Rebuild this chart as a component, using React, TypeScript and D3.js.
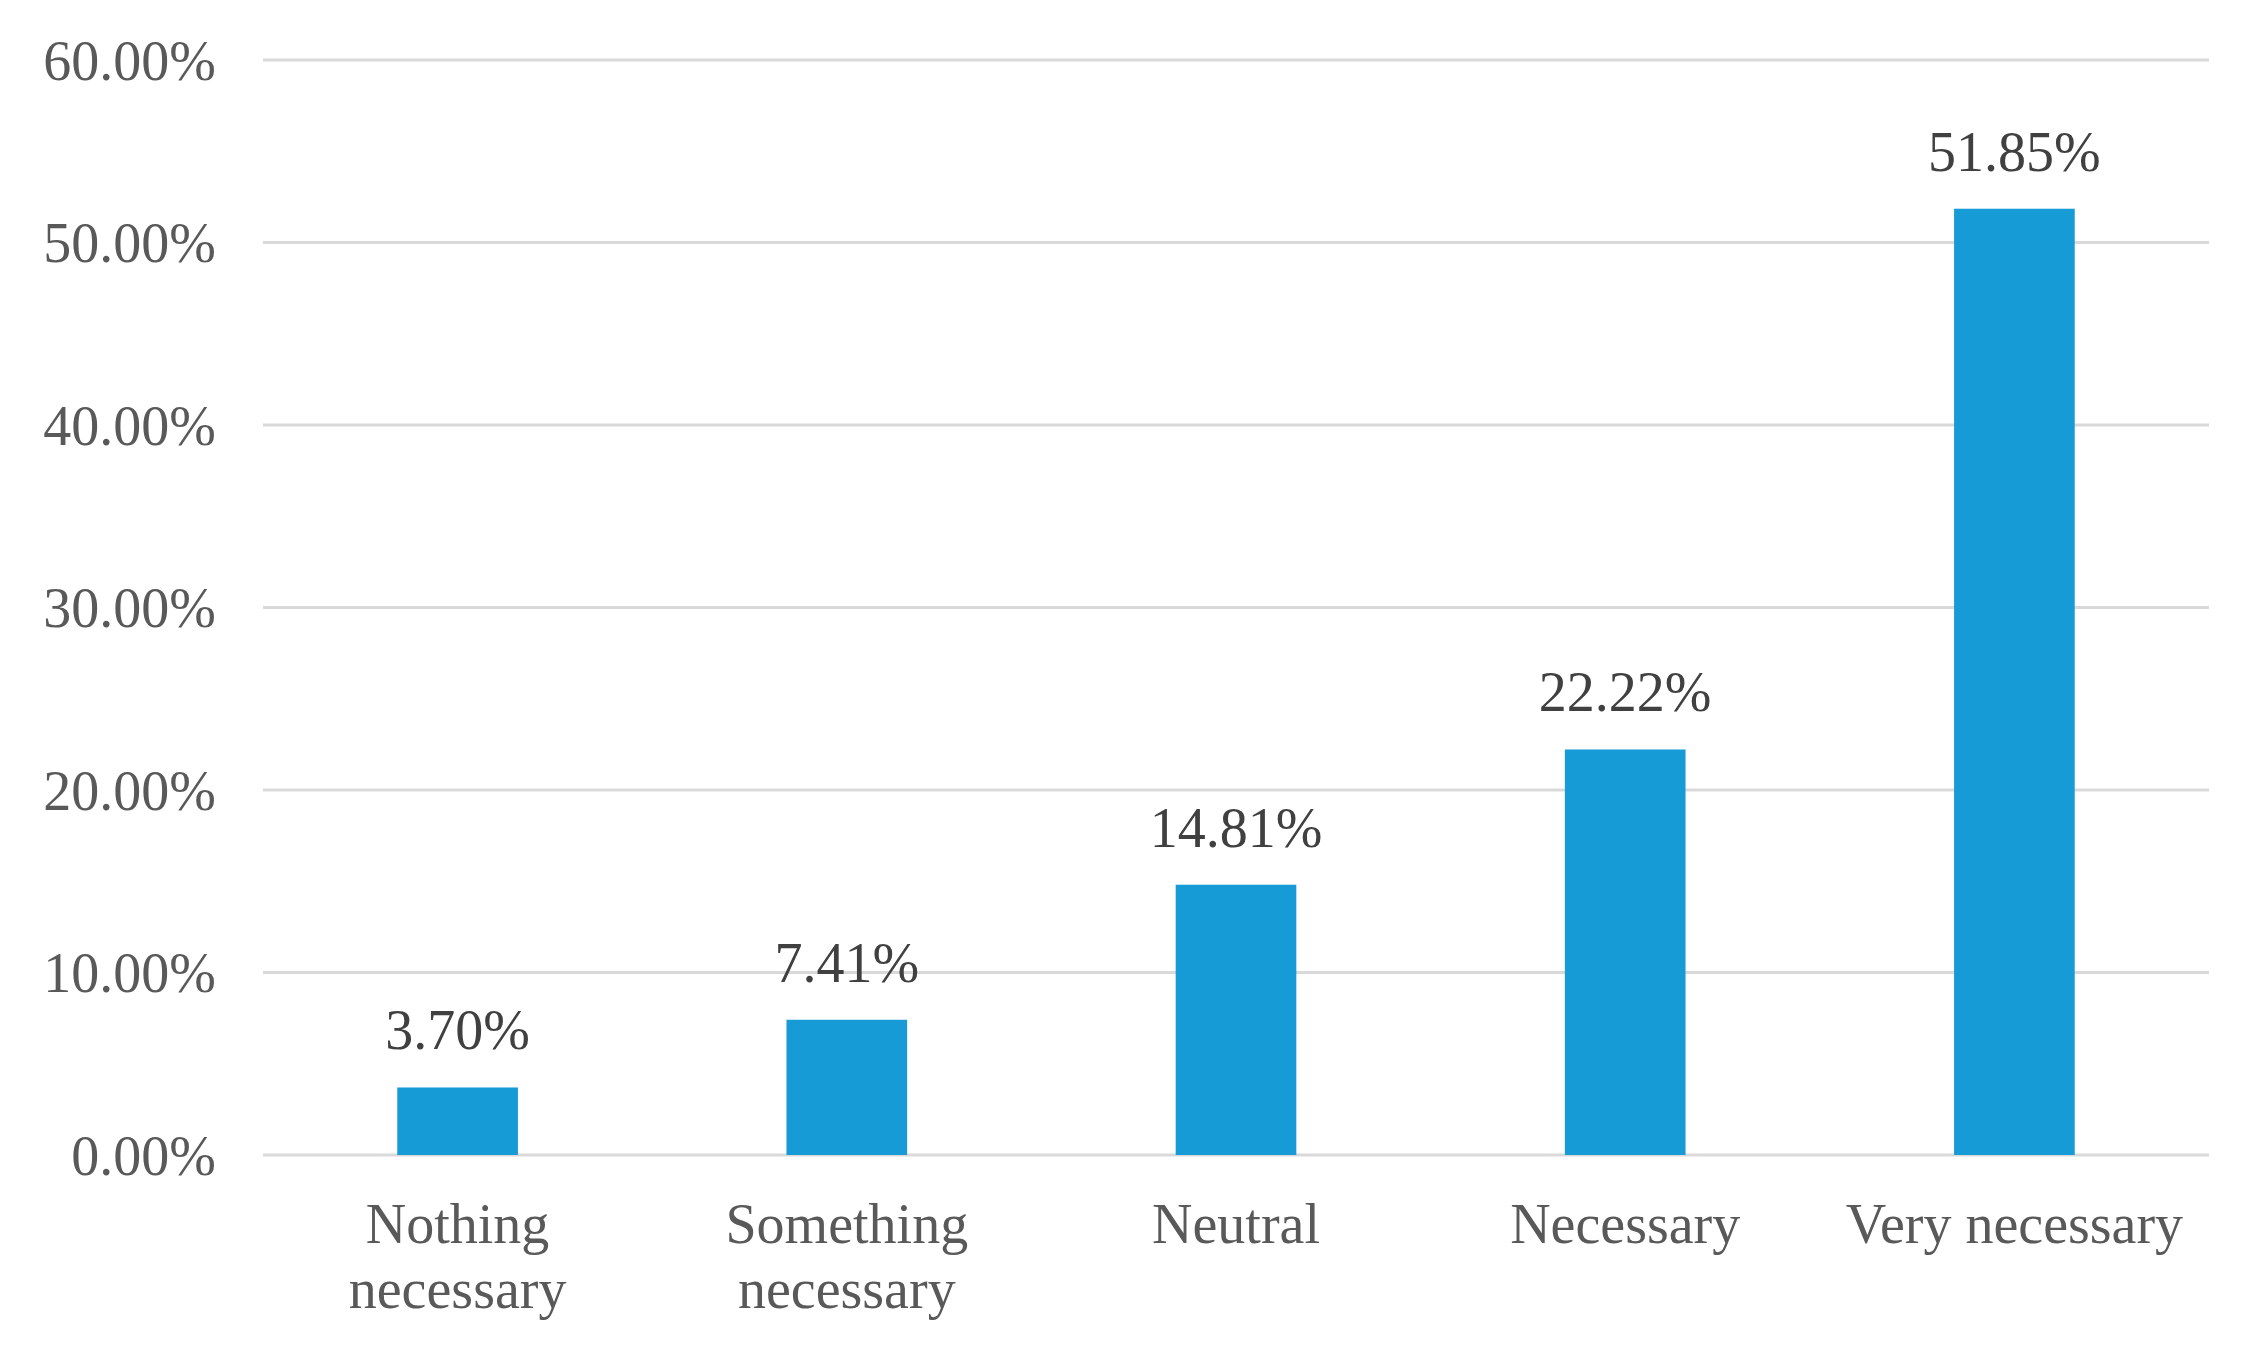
import * as d3 from "d3";
import React, { useRef, useEffect } from "react";

const categories = [
    ["Nothing", "necessary"],
    ["Something", "necessary"],
    ["Neutral"],
    ["Necessary"],
    ["Very necessary"],
];
const values = [3.7, 7.41, 14.81, 22.22, 51.85];
const yTicks = [0, 10, 20, 30, 40, 50, 60];

function App() {
    const ref = useRef(null);
    const width = 2249;
    const height = 1352;
    const margin = { top: 60, right: 40, bottom: 197, left: 263 };

    useEffect(() => {
        const svg = d3.select(ref.current);
        svg.selectAll("*").remove();

        const x = d3
            .scaleBand()
            .domain(categories.map((d, i) => String(i)))
            .range([margin.left, width - margin.right])
            .paddingInner(0.69)
            .paddingOuter(0.345);
        const y = d3
            .scaleLinear()
            .domain([0, 60])
            .range([height - margin.bottom, margin.top]);

        const font = "'Liberation Serif', 'Times New Roman', serif";

        // gridlines
        svg.append("g")
            .selectAll("line")
            .data(yTicks)
            .join("line")
            .attr("x1", margin.left)
            .attr("x2", width - margin.right)
            .attr("y1", (d) => y(d))
            .attr("y2", (d) => y(d))
            .attr("stroke", "#d9d9d9")
            .attr("stroke-width", 3);

        // y labels
        svg.append("g")
            .selectAll("text")
            .data(yTicks)
            .join("text")
            .attr("x", 216)
            .attr("y", (d) => y(d))
            .attr("dy", "0.35em")
            .attr("text-anchor", "end")
            .attr("font-family", font)
            .attr("font-size", 56)
            .attr("fill", "#595959")
            .text((d) => d3.format(".2f")(d) + "%");

        // bars
        svg.append("g")
            .selectAll("rect")
            .data(values)
            .join("rect")
            .attr("x", (d, i) => x(String(i)))
            .attr("width", x.bandwidth())
            .attr("y", (d) => y(d))
            .attr("height", (d) => y(0) - y(d))
            .attr("fill", "#179bd7");

        // value labels
        svg.append("g")
            .selectAll("text")
            .data(values)
            .join("text")
            .attr("x", (d, i) => x(String(i)) + x.bandwidth() / 2)
            .attr("y", (d) => y(d) - 38)
            .attr("text-anchor", "middle")
            .attr("font-family", font)
            .attr("font-size", 56)
            .attr("fill", "#404040")
            .text((d) => d3.format(".2f")(d) + "%");

        // category labels
        const cat = svg
            .append("g")
            .selectAll("text")
            .data(categories)
            .join("text")
            .attr("x", (d, i) => x(String(i)) + x.bandwidth() / 2)
            .attr("y", 1243)
            .attr("text-anchor", "middle")
            .attr("font-family", font)
            .attr("font-size", 56)
            .attr("fill", "#595959");
        cat.selectAll("tspan")
            .data((d) => d)
            .join("tspan")
            .attr("x", function () {
                return d3.select(this.parentNode).attr("x");
            })
            .attr("dy", (d, i) => (i === 0 ? 0 : 65))
            .text((d) => d);
    }, []);

    return (
        <svg
            ref={ref}
            width={width}
            height={height}
            style={{ position: "absolute", left: 0, top: 0, background: "#fff" }}
        ></svg>
    );
}

export default App;
